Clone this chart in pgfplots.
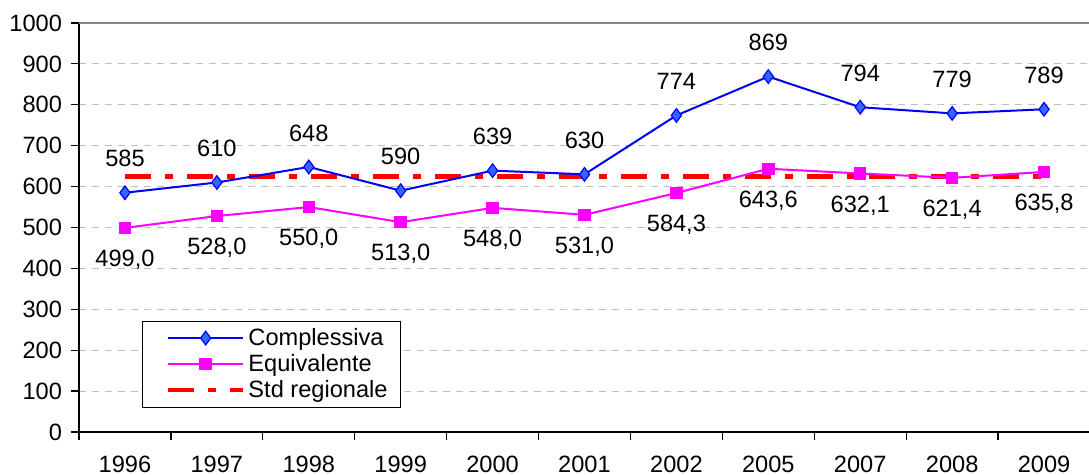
\documentclass[border=0pt]{standalone}
\usepackage{pgfplots}
\pgfplotsset{compat=1.18}
\usepackage{fontspec}
\setmainfont{Liberation Sans}
\definecolor{cblue}{HTML}{0000FF}
\definecolor{cfill}{HTML}{3366FF}
\definecolor{cmag}{HTML}{FF00FF}
\definecolor{cred}{HTML}{FF0000}
\definecolor{cgrid}{HTML}{BFBFBF}
\definecolor{ctop}{HTML}{868686}
\newcommand{\f}{\fontsize{11.8}{13}\selectfont}
\begin{document}
\begin{tikzpicture}
\begin{axis}[
  at={(0,0)}, anchor=south west,
  scale only axis, width=505.5pt, height=204.5pt,
  xmin=-0.5, xmax=10.5, ymin=0, ymax=1000,
  axis x line*=bottom, axis y line*=left,
  axis line style={black, line width=0.75pt},
  xtick={0,...,10},
  xticklabels={1996,1997,1998,1999,2000,2001,2002,2005,2007,2008,2009},
  minor xtick={-0.5,0.5,...,10.5},
  major x tick style={draw=none},
  minor x tick style={black, line width=0.6pt},
  ytick={0,100,...,1000},
  y tick style={black, line width=0.6pt},
  tick align=outside,
  major tick length=4pt, minor tick length=4pt,
  ymajorgrids,
  grid style={cgrid, line width=0.5pt, dash pattern=on 3.5pt off 3pt},
  /pgf/number format/assume math mode=true,
  /pgf/number format/1000 sep={},
  tick label style={font=\f},
  xticklabel style={anchor=center, yshift=-12pt},
  yticklabel style={anchor=east, xshift=-1pt},
  legend style={at={(rel axis cs:0.062,0.272)}, anchor=north west,
    draw=black, line width=0.5pt, font=\f,
    nodes={inner xsep=1.1pt, inner ysep=1.5pt},
    inner xsep=5.4pt, inner ysep=1.9pt,
    row sep=0pt, column sep=0.45pt,
    cells={anchor=west}},
  legend image code/.code={\path (0pt,0pt); \draw[mark repeat=2,mark phase=2,#1] plot coordinates {(6.5pt,0pt) (25.25pt,0pt) (44pt,0pt)};},
]
\addplot[cred, line width=2.2pt, dash pattern=on 13pt off 7pt on 4pt off 7pt, forget plot]
  coordinates {(0,625) (10,625)};
\addplot[cblue, line width=1pt, mark=diamond*, mark size=3.4pt,
  mark options={fill=cfill, draw=cblue, solid, line width=0.6pt},
  nodes near coords,
  every node near coord/.append style={black, anchor=center, yshift=17pt, font=\f}]
  coordinates {(0,585) (1,610) (2,648) (3,590) (4,639) (5,630) (6,774) (7,869) (8,794) (9,779) (10,789)};
\addlegendentry{Complessiva}
\addplot[cmag, line width=1pt, mark=square*, mark size=2.6pt,
  mark options={fill=cmag, draw=cmag, solid},
  nodes near coords={\pgfmathprintnumber[fixed,fixed zerofill,precision=1,use comma]{\pgfplotspointmeta}},
  every node near coord/.append style={black, anchor=center, yshift=-16pt, font=\f}]
  coordinates {(0,499.0) (1,528.0) (2,550.0) (3,513.0) (4,548.0) (5,531.0) (6,584.3) (7,643.6) (8,632.1) (9,621.4) (10,635.8)};
\addlegendentry{Equivalente}
\addlegendimage{cred, line width=2.2pt, dash pattern=on 13pt off 7pt on 4pt off 7pt}
\addlegendentry{Std regionale}
\draw[ctop, line width=0.75pt] (rel axis cs:0,1) -- (rel axis cs:1,1);
\end{axis}
\pgfresetboundingbox
\path (-39.5pt,-21.5pt) rectangle (505pt,216pt);
\end{tikzpicture}
\end{document}
